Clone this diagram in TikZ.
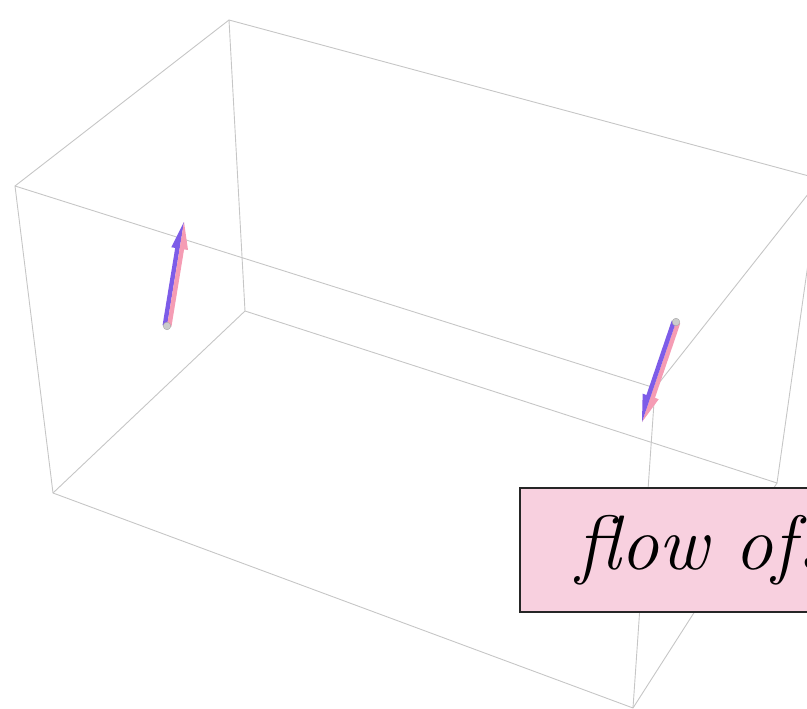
\documentclass[tikz,border=0pt]{standalone}
\usepackage{tikz}
\usetikzlibrary{calc}
\definecolor{edgegray}{HTML}{C6C6C6}
\definecolor{spinL}{HTML}{7D5CE8}
\definecolor{spinR}{HTML}{F59CB4}
\definecolor{labelpink}{HTML}{F8D0DF}

% spin arrow: tail, tip, colour on the +90 side, colour on the -90 side
\newcommand{\spinarrow}[4]{%
  \coordinate (hb) at ($(#2)!27pt!(#1)$);
  \fill[fill=#3] (#1) -- ($(#1)!4.5pt!90:(#2)$) -- ($(hb)!4.5pt!90:(#2)$)
    -- ($(hb)!8.5pt!90:(#2)$) -- (#2) -- cycle;
  \fill[fill=#4] (#1) -- ($(#1)!4.5pt!-90:(#2)$) -- ($(hb)!4.5pt!-90:(#2)$)
    -- ($(hb)!8.5pt!-90:(#2)$) -- (#2) -- cycle;
  \filldraw[spincap] (#1) circle (3.8pt);
}

\begin{document}
\begin{tikzpicture}[
  x=1pt, y=-1pt,
  edge/.style={draw=edgegray, line width=0.9pt, line join=round},
  spincap/.style={fill=gray!40, draw=gray!70, line width=0.4pt},
  labelbox/.style={rectangle, draw=black!85, line width=2pt, fill=labelpink,
    anchor=north west, minimum height=124pt, text width=320pt, inner xsep=56pt,
    align=left, font=\fontsize{77}{80}\selectfont\itshape},
]
\useasboundingbox (0,0) rectangle (807,709);
\clip (0,0) rectangle (807,709);

% Box corners
\coordinate (btl) at (229,20);
\coordinate (btr) at (820,179);
\coordinate (bbr) at (777,483);
\coordinate (bbl) at (245,311);
\coordinate (ftl) at (15,186);
\coordinate (ftr) at (655,388);
\coordinate (fbr) at (633,708);
\coordinate (fbl) at (53,493);

% Box edges
\draw[edge] (btl) -- (btr) -- (bbr) -- (bbl) -- cycle;
\draw[edge] (btl) -- (ftl);
\draw[edge] (btr) -- (ftr);
\draw[edge] (bbr) -- (fbr);
\draw[edge] (bbl) -- (fbl);
\draw[edge] (ftl) -- (ftr) -- (fbr) -- (fbl) -- cycle;

% Spins
\coordinate (upTail) at (167,326);
\coordinate (upTip) at (184,222);
\coordinate (downTail) at (676,322);
\coordinate (downTip) at (642,422);
\spinarrow{upTail}{upTip}{spinL}{spinR}
\spinarrow{downTail}{downTip}{spinR}{spinL}

% Label
\node[labelbox] (flow) at (519,487) {flow of\hspace{3pt}s};
\end{tikzpicture}
\end{document}
